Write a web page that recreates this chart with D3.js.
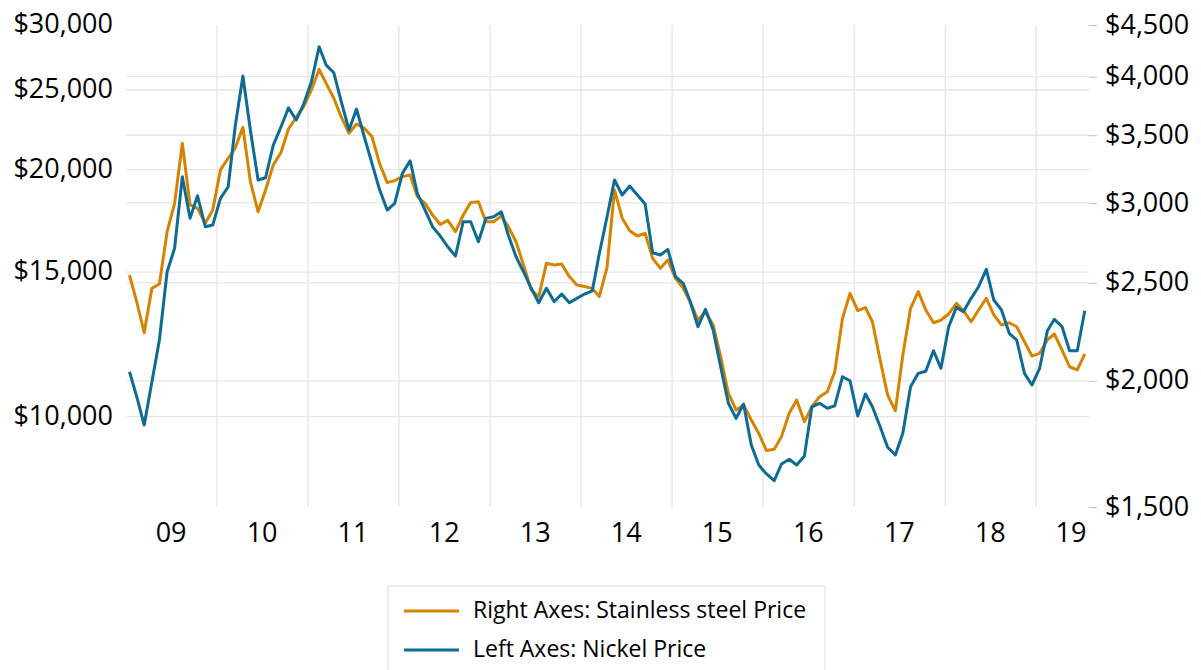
<!DOCTYPE html>
<html lang="en">
<head>
  <meta charset="UTF-8">
  <title>Nickel vs Stainless Steel Price</title>
  <script src="https://d3js.org/d3.v7.min.js"></script>
  <style>
    body { margin: 0; background: #fff; }
    text { font-family: "Open Sans", sans-serif; fill: #000; }
  </style>
</head>
<body>
  <div id="chart"></div>
  <script>
    // monthly prices, Jan 2009 .. Jul 2019
    const steel = [
      2545, 2384, 2232, 2469, 2494, 2810, 2997, 3437, 2986, 2963,
      2864, 2952, 3234, 3321, 3398, 3564, 3149, 2940, 3090, 3271,
      3366, 3550, 3647, 3736, 3881, 4068, 3940, 3808, 3647, 3516,
      3591, 3556, 3489, 3284, 3142, 3156, 3185, 3197, 3043, 2997,
      2918, 2856, 2883, 2810, 2918, 3002, 3008, 2874, 2874, 2912,
      2842, 2746, 2604, 2460, 2423, 2614, 2604, 2610, 2536, 2488,
      2479, 2469, 2423, 2589, 3090, 2897, 2816, 2782, 2799, 2644,
      2585, 2634, 2526, 2469, 2395, 2297, 2341, 2271, 2113, 1944,
      1871, 1893, 1829, 1774, 1706, 1711, 1761, 1857, 1914, 1822,
      1885, 1929, 1951, 2042, 2306, 2441, 2347, 2363, 2288, 2097,
      1936, 1868, 2121, 2359, 2451, 2350, 2283, 2297, 2329, 2386,
      2347, 2288, 2350, 2414, 2324, 2271, 2283, 2262, 2186, 2116,
      2129, 2195, 2225, 2145, 2065, 2050, 2126
    ];
    const nickel = [
      11342, 10527, 9767, 11029, 12397, 15014, 16033, 19599, 17440, 18582,
      17035, 17115, 18447, 19058, 22551, 25996, 22342, 19419, 19544, 21421,
      22551, 23778, 22979, 24032, 25583, 28222, 26809, 26237, 24188, 22342,
      23697, 21926, 20350, 18919, 17851, 18189, 19786, 20500, 18707, 17851,
      17035, 16596, 16105, 15690, 17275, 17275, 16333, 17440, 17519, 17766,
      16643, 15660, 15014, 14332, 13764, 14332, 13803, 14104, 13764, 13934,
      14104, 14234, 15787, 17509, 19419, 18619, 19094, 18619, 18154, 15836,
      15735, 15988, 14805, 14534, 13803, 12868, 13511, 12750, 11503, 10380,
      9952, 10360, 9234, 8730, 8513, 8354, 8755, 8871, 8730, 8954,
      10280, 10380, 10235, 10310, 11184, 11059, 10017, 10654, 10280, 9720,
      9175, 8978, 9542, 10874, 11291, 11358, 12030, 11451, 12868, 13586,
      13420, 13934, 14396, 15116, 13868, 13485, 12632, 12397, 11291, 10927,
      11451, 12724, 13138, 12868, 12030, 12030, 13458
    ];
    const leftTicks = [10000, 15000, 20000, 25000, 30000];
    const rightTicks = [1500, 2000, 2500, 3000, 3500, 4000, 4500];
    const yearLabels = ["09", "10", "11", "12", "13", "14", "15", "16", "17", "18", "19"];
    const seriesNames = ["Right Axes: Stainless steel Price", "Left Axes: Nickel Price"];

    const width = 1201, height = 670;
    const plot = { left: 126, right: 1089, top: 25, bottom: 507 };
    const orange = "#d68400", blue = "#0e6b96", grid = "#e6e6e6";

    const start = new Date(2009, 0, 1);
    const end = d3.timeMonth.offset(start, nickel.length);
    const months = nickel.map((_, i) => new Date(2009, i, 15));

    const x = d3.scaleTime().domain([start, end]).range([plot.left, plot.right]);
    const yLeft = d3.scaleLog().domain([7760, 30000]).range([plot.bottom, plot.top]);
    const yRight = d3.scaleLog().domain([1500, 4500]).range([plot.bottom, plot.top]);
    const money = d => "$" + d3.format(",")(d);

    const svg = d3.select("#chart").append("svg")
      .attr("width", width)
      .attr("height", height);

    // horizontal grid for both axes
    const inside = (s, v) => v > s.domain()[0] && v < s.domain()[1];
    svg.append("g").selectAll("line")
      .data(leftTicks.filter(v => inside(yLeft, v)).map(v => yLeft(v))
        .concat(rightTicks.filter(v => inside(yRight, v)).map(v => yRight(v))))
      .join("line")
      .attr("x1", plot.left).attr("x2", plot.right)
      .attr("y1", d => d).attr("y2", d => d)
      .attr("stroke", grid).attr("stroke-width", 1.3);

    // vertical grid at year starts
    svg.append("g").selectAll("line")
      .data(d3.timeYear.range(new Date(2010, 0, 1), end))
      .join("line")
      .attr("x1", d => x(d)).attr("x2", d => x(d))
      .attr("y1", plot.top).attr("y2", plot.bottom)
      .attr("stroke", grid).attr("stroke-width", 1.3);

    // left axis
    const gl = svg.append("g")
      .attr("transform", `translate(${plot.left},0)`)
      .call(d3.axisLeft(yLeft).tickValues(leftTicks).tickFormat(money).tickSize(0).tickPadding(13));
    gl.select(".domain").remove();
    gl.selectAll("text").style("font-size", "27px").attr("dy", "0.28em");

    // right axis
    const gr = svg.append("g")
      .attr("transform", `translate(${plot.right},0)`)
      .call(d3.axisRight(yRight).tickValues(rightTicks).tickFormat(money).tickSize(8).tickPadding(8));
    gr.select(".domain").remove();
    gr.selectAll("line").attr("stroke", "#bfbfbf");
    gr.selectAll("text").style("font-size", "27px").attr("dy", "0.3em");

    // year labels at mid-year, last one pulled inside the plot
    svg.append("g").selectAll("text")
      .data(yearLabels)
      .join("text")
      .attr("x", (d, i) => Math.min(x(new Date(2009 + i, 6, 1)), plot.right - 18))
      .attr("y", 542)
      .attr("text-anchor", "middle")
      .style("font-size", "27px")
      .text(d => d);

    const line = s => d3.line().x((d, i) => x(months[i])).y(d => s(d));

    svg.append("path")
      .datum(steel)
      .attr("fill", "none")
      .attr("stroke", orange)
      .attr("stroke-width", 3)
      .attr("stroke-linejoin", "round")
      .attr("d", line(yRight));

    svg.append("path")
      .datum(nickel)
      .attr("fill", "none")
      .attr("stroke", blue)
      .attr("stroke-width", 3)
      .attr("stroke-linejoin", "round")
      .attr("d", line(yLeft));

    // legend
    const legend = svg.append("g").attr("transform", "translate(388,586)");
    legend.append("rect")
      .attr("width", 437).attr("height", 100)
      .attr("fill", "#fff").attr("stroke", "#dedede");
    const items = legend.selectAll("g.item")
      .data(seriesNames)
      .join("g")
      .attr("class", "item")
      .attr("transform", (d, i) => `translate(0,${25 + i * 39})`);
    items.append("line")
      .attr("x1", 16).attr("x2", 71)
      .attr("stroke", (d, i) => i === 0 ? orange : blue)
      .attr("stroke-width", 3);
    items.append("text")
      .attr("x", 85).attr("y", 7)
      .style("font-size", "23px")
      .text(d => d);
  </script>
</body>
</html>
